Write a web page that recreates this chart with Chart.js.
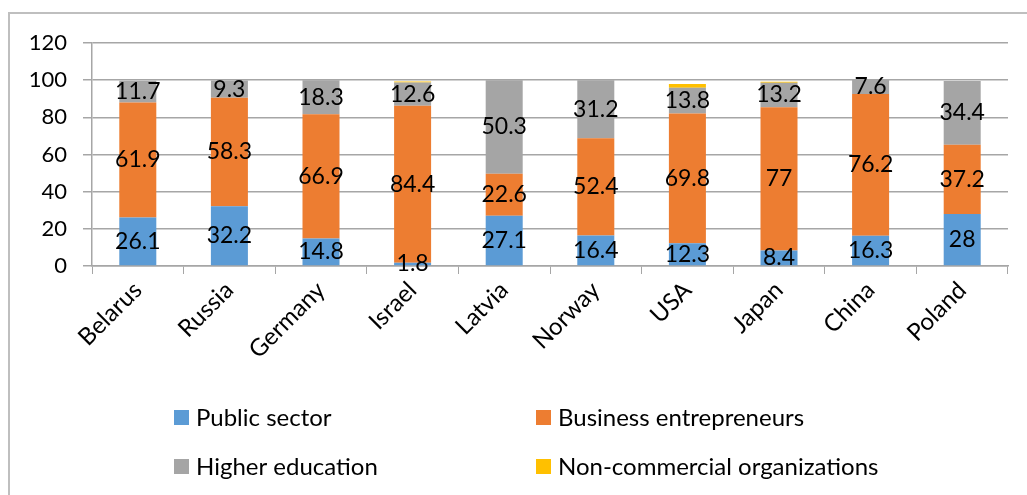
<!DOCTYPE html>
<html lang="en">
<head>
    <meta charset="UTF-8">
    <title>Expenditure on R&D by sector</title>
    <script src="https://cdn.jsdelivr.net/npm/chart.js@4.4.1/dist/chart.umd.min.js"></script>
    <style>
        html, body { margin: 0; padding: 0; background: #fff; }
        #wrap { position: relative; width: 1027px; height: 495px; }
        #frame {
            position: absolute; left: 8px; top: 12px; right: -5px; bottom: -5px;
            border-left: 2px solid #bfbfbf; border-top: 2px solid #bfbfbf;
        }
        #myChart { position: absolute; left: 0; top: 0; }
    </style>
</head>
<body>
    <div id="wrap">
        <div id="frame"></div>
        <canvas id="myChart" width="1027" height="495"></canvas>
    </div>
    <script>
    const countries = ['Belarus', 'Russia', 'Germany', 'Israel', 'Latvia', 'Norway', 'USA', 'Japan', 'China', 'Poland'];
    const publicSector = [26.1, 32.2, 14.8, 1.8, 27.1, 16.4, 12.3, 8.4, 16.3, 28];
    const business = [61.9, 58.3, 66.9, 84.4, 22.6, 52.4, 69.8, 77, 76.2, 37.2];
    const higherEdu = [11.7, 9.3, 18.3, 12.6, 50.3, 31.2, 13.8, 13.2, 7.6, 34.4];
    const nonCommercial = [0, 0, 0, 0.5, 0, 0, 2, 0.5, 0, 0];
    const yTicks = [0, 20, 40, 60, 80, 100, 120];

    const FONT = 'Lato, "Open Sans", sans-serif';

    // values written in the middle of each segment (not for the yellow one)
    const segmentLabels = {
        id: 'segmentLabels',
        afterDatasetsDraw(chart) {
            const ctx = chart.ctx;
            ctx.save();
            ctx.font = '23px ' + FONT;
            ctx.fillStyle = '#000';
            ctx.textAlign = 'center';
            ctx.textBaseline = 'middle';
            chart.data.datasets.forEach((ds, i) => {
                if (!ds.showValues) return;
                chart.getDatasetMeta(i).data.forEach((bar, j) => {
                    const p = bar.getCenterPoint();
                    ctx.fillText(String(ds.data[j]), p.x, p.y);
                });
            });
            ctx.restore();
        }
    };

    // two-column legend like the original
    const gridLegend = {
        id: 'gridLegend',
        afterDraw(chart) {
            const ctx = chart.ctx;
            const cols = [174, 536];
            const rows = [417, 466];
            ctx.save();
            ctx.font = '24px ' + FONT;
            ctx.textBaseline = 'middle';
            chart.data.datasets.forEach((ds, i) => {
                const x = cols[i % 2];
                const y = rows[Math.floor(i / 2)];
                ctx.fillStyle = ds.backgroundColor;
                ctx.fillRect(x, y - 7, 15, 15);
                ctx.fillStyle = '#000';
                ctx.fillText(ds.label, x + 22, y + 1);
            });
            ctx.restore();
        }
    };

    new Chart(document.getElementById('myChart'), {
        type: 'bar',
        data: {
            labels: countries,
            datasets: [
                { label: 'Public sector', data: publicSector, backgroundColor: '#5b9bd5', showValues: true },
                { label: 'Business entrepreneurs', data: business, backgroundColor: '#ed7d31', showValues: true },
                { label: 'Higher education', data: higherEdu, backgroundColor: '#a5a5a5', showValues: true },
                { label: 'Non-commercial organizations', data: nonCommercial, backgroundColor: '#ffc000', showValues: false }
            ]
        },
        options: {
            responsive: false,
            animation: false,
            events: [],
            layout: { padding: { top: 43, right: 19, left: 0, bottom: 0 } },
            datasets: { bar: { categoryPercentage: 0.404, barPercentage: 1 } },
            plugins: { legend: { display: false }, tooltip: { enabled: false } },
            scales: {
                x: {
                    stacked: true,
                    afterFit(scale) { scale.height = 229; },
                    grid: { drawOnChartArea: false, drawTicks: true, tickLength: 8, color: '#a6a6a6' },
                    border: { color: '#a6a6a6', width: 1.5 },
                    ticks: {
                        color: '#000', font: { family: FONT, size: 24 },
                        minRotation: 45, maxRotation: 45, padding: 2, autoSkip: false
                    }
                },
                y: {
                    stacked: true,
                    min: 0, max: 120,
                    afterFit(scale) { scale.width = 92; },
                    afterBuildTicks(scale) { scale.ticks = yTicks.map(v => ({ value: v })); },
                    grid: { color: '#a6a6a6', lineWidth: 1.5, tickLength: 9 },
                    border: { color: '#a6a6a6', width: 1.5 },
                    ticks: { color: '#000', font: { family: FONT, size: 22 }, padding: 16 }
                }
            }
        },
        plugins: [segmentLabels, gridLegend]
    });
    </script>
</body>
</html>
